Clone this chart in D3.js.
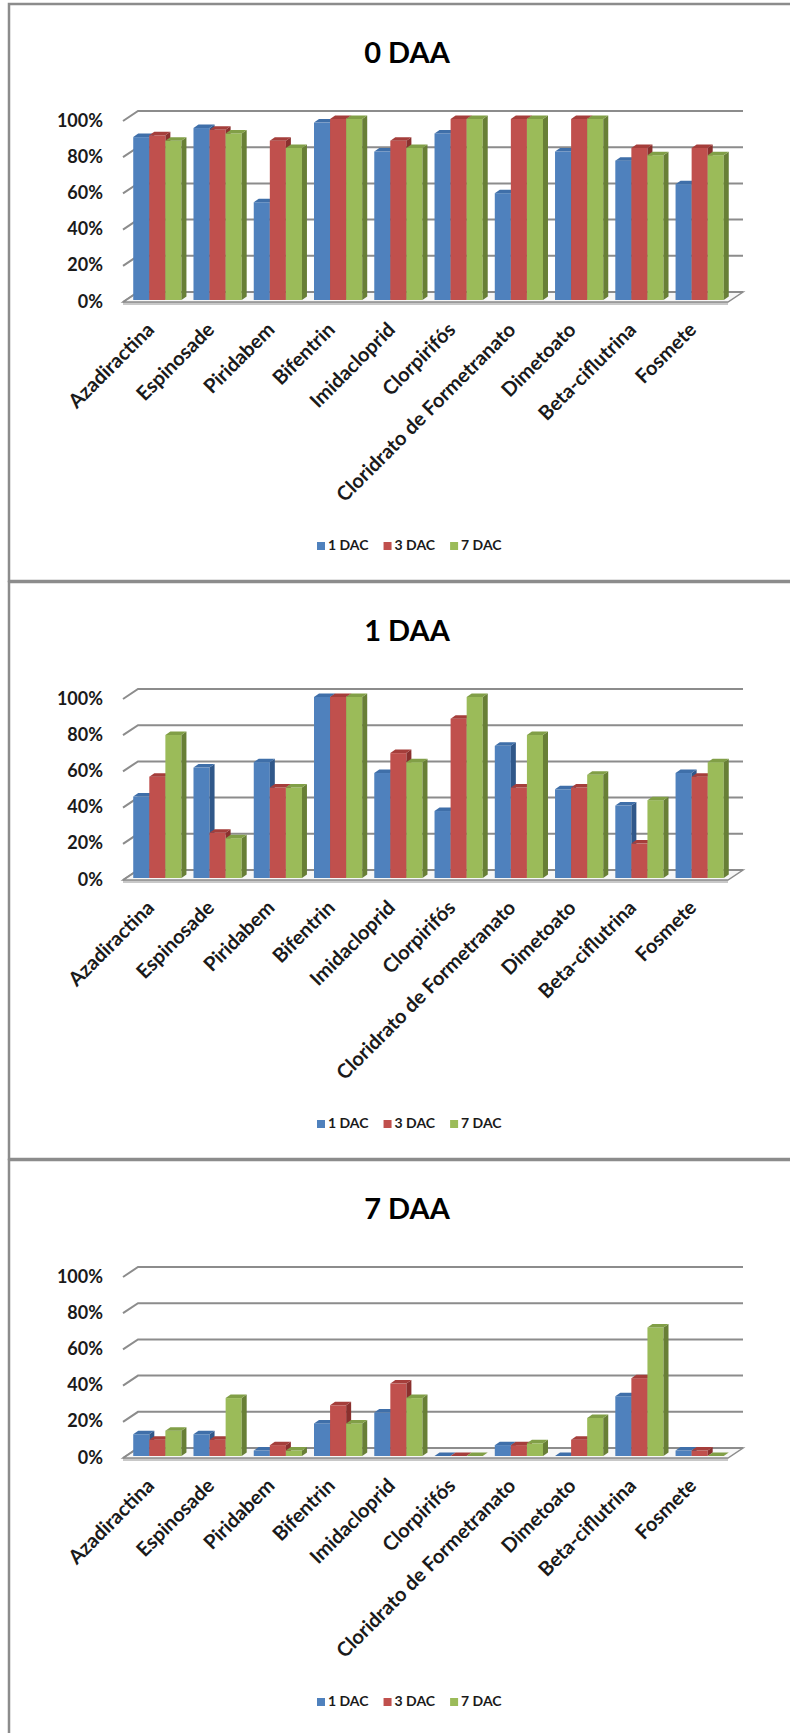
<!DOCTYPE html>
<html>
<head>
<meta charset="utf-8">
<script src="https://cdnjs.cloudflare.com/ajax/libs/d3/7.8.5/d3.min.js"></script>
<style>
  body { margin: 0; background: #fff; }
  svg { display: block; font-family: Lato, 'Open Sans', sans-serif; }
</style>
</head>
<body>
<div class="charts"></div>
<script>
var w = 790,
  h = 1733,
  panelH = 578;

var categories = ['Azadiractina', 'Espinosade', 'Piridabem', 'Bifentrin', 'Imidacloprid', 'Clorpirifós',
  'Cloridrato de Formetranato', 'Dimetoato', 'Beta-ciflutrina', 'Fosmete'];
var series = ['1 DAC', '3 DAC', '7 DAC'];
var titles = ['0 DAA', '1 DAA', '7 DAA'];
var tickValues = [0, 0.2, 0.4, 0.6, 0.8, 1];

// one row per category: [1 DAC, 3 DAC, 7 DAC]
var daa0 = [[0.90, 0.91, 0.88], [0.95, 0.94, 0.92], [0.54, 0.88, 0.84], [0.98, 1, 1], [0.82, 0.88, 0.84],
  [0.92, 1, 1], [0.59, 1, 1], [0.82, 1, 1], [0.77, 0.84, 0.80], [0.64, 0.84, 0.80]];
var daa1 = [[0.45, 0.56, 0.79], [0.61, 0.25, 0.22], [0.64, 0.50, 0.50], [1, 1, 1], [0.58, 0.69, 0.64],
  [0.37, 0.88, 1], [0.73, 0.50, 0.79], [0.49, 0.50, 0.57], [0.40, 0.19, 0.43], [0.58, 0.56, 0.64]];
var daa7 = [[0.12, 0.09, 0.14], [0.12, 0.09, 0.32], [0.03, 0.06, 0.03], [0.18, 0.28, 0.18], [0.24, 0.40, 0.32],
  [0, 0, 0], [0.06, 0.06, 0.07], [0, 0.09, 0.21], [0.33, 0.43, 0.71], [0.03, 0.03, 0]];
var panels = [daa0, daa1, daa7];

// front / top / side colours per series
var colors = {
  front: ['#4f81bd', '#c0504d', '#9bbb59'],
  top: ['#3f6fa9', '#a53e3b', '#819f47'],
  side: ['#30588a', '#8a302e', '#687f36']
};

// 3d geometry
var fx0 = 123, fx1 = 728,   // front edge of the floor
  dx = 15, dy = -10,         // full depth offset of the walls
  barShift = [3, -2],        // bars stand a little behind the front edge
  barDepth = [5, -3.5];

var x = d3.scaleBand()
  .domain(categories)
  .range([fx0, fx1])
  .paddingInner(0.2)
  .paddingOuter(0.12);

var xs = d3.scaleBand()
  .domain(series)
  .range([0, x.bandwidth()]);

var y = d3.scaleLinear()
  .domain([0, 1])
  .range([302, 121]);

var svg = d3.select('.charts')
  .append('svg')
  .attr('width', w)
  .attr('height', h);

var pts = function (arr) {
  return arr.map(function (p) { return p.join(','); }).join(' ');
};

var drawPanel = function (data, i) {
  var g = svg.append('g')
    .attr('transform', 'translate(0,' + (i * panelH) + ')');

  // frame
  g.append('rect')
    .attr('x', 9)
    .attr('y', 4)
    .attr('width', 800)
    .attr('height', 577)
    .attr('fill', 'none')
    .attr('stroke', '#8c8c8c')
    .attr('stroke-width', 2.5);

  g.append('text')
    .attr('x', 407)
    .attr('y', 63)
    .attr('text-anchor', 'middle')
    .attr('font-size', '29px')
    .attr('font-weight', 'bold')
    .text(titles[i]);

  // floor
  var y0 = y(0);
  g.append('polygon')
    .attr('points', pts([[fx0, y0 + 3], [fx1, y0 + 3], [fx1, y0], [fx1 + dx, y0 + dy], [fx0 + dx, y0 + dy], [fx0, y0]]))
    .attr('fill', '#c8c8c8');
  g.append('polygon')
    .attr('points', pts([[fx0, y0], [fx1, y0], [fx1 + dx, y0 + dy], [fx0 + dx, y0 + dy]]))
    .attr('fill', '#f7f7f7')
    .attr('stroke', '#8c8c8c')
    .attr('stroke-width', 1.5);

  // gridlines on the back wall and the left wall
  var grid = g.selectAll('.grid')
    .data(tickValues)
    .enter()
    .append('g')
    .attr('class', 'grid');
  grid.append('polyline')
    .attr('points', function (d) {
      return pts([[fx0, y(d)], [fx0 + dx, y(d) + dy], [fx1 + dx, y(d) + dy]]);
    })
    .attr('fill', 'none')
    .attr('stroke', '#8c8c8c')
    .attr('stroke-width', 2);
  grid.append('text')
    .attr('x', 103)
    .attr('y', function (d) { return y(d) + 1; })
    .attr('text-anchor', 'end')
    .attr('dominant-baseline', 'middle')
    .attr('font-size', '18px')
    .attr('font-weight', 'bold')
    .attr('fill', '#1a1a1a')
    .text(function (d) { return d3.format('.0%')(d); });

  // bars, left to right so each front face covers its neighbour's side
  var bars = [];
  categories.forEach(function (c, ci) {
    series.forEach(function (s, si) {
      bars.push({ cat: c, s: s, si: si, v: data[ci][si] });
    });
  });

  var bar = g.selectAll('.bar')
    .data(bars)
    .enter()
    .append('g')
    .attr('class', 'bar');

  var geo = function (d) {
    var bx = x(d.cat) + xs(d.s) + barShift[0],
      bw = xs.bandwidth(),
      top = y(d.v) + barShift[1],
      bot = y(0) + barShift[1];
    return { bx: bx, bw: bw, top: top, bot: bot };
  };

  bar.append('rect')
    .attr('x', function (d) { return geo(d).bx; })
    .attr('y', function (d) { return geo(d).top; })
    .attr('width', xs.bandwidth())
    .attr('height', function (d) { var b = geo(d); return b.bot - b.top; })
    .attr('fill', function (d) { return colors.front[d.si]; });

  bar.append('polygon')
    .attr('points', function (d) {
      var b = geo(d);
      return pts([[b.bx + b.bw, b.top], [b.bx + b.bw + barDepth[0], b.top + barDepth[1]],
        [b.bx + b.bw + barDepth[0], b.bot + barDepth[1]], [b.bx + b.bw, b.bot]]);
    })
    .attr('fill', function (d) { return colors.side[d.si]; });

  bar.append('polygon')
    .attr('points', function (d) {
      var b = geo(d);
      return pts([[b.bx, b.top], [b.bx + b.bw, b.top], [b.bx + b.bw + barDepth[0], b.top + barDepth[1]],
        [b.bx + barDepth[0], b.top + barDepth[1]]]);
    })
    .attr('fill', function (d) { return colors.top[d.si]; });

  // category labels
  g.selectAll('.xlabel')
    .data(categories)
    .enter()
    .append('text')
    .attr('class', 'xlabel')
    .attr('transform', function (d) {
      return 'translate(' + (x(d) + x.bandwidth() / 2 + 1) + ',331) rotate(-45)';
    })
    .attr('text-anchor', 'end')
    .attr('font-size', '20px')
    .attr('font-weight', 'bold')
    .attr('fill', '#1a1a1a')
    .text(function (d) { return d; });

  // legend
  var legend = g.append('g')
    .attr('transform', 'translate(0,546)');
  var lx = 317;
  series.forEach(function (s, si) {
    legend.append('rect')
      .attr('x', lx)
      .attr('y', -4)
      .attr('width', 8)
      .attr('height', 8)
      .attr('fill', colors.front[si]);
    var t = legend.append('text')
      .attr('x', lx + 11)
      .attr('y', 0)
      .attr('dominant-baseline', 'middle')
      .attr('font-size', '14px')
      .attr('font-weight', 'bold')
      .attr('fill', '#1a1a1a')
      .text(s);
    lx += 11 + t.node().getComputedTextLength() + 15;
  });
};

panels.forEach(drawPanel);
</script>
</body>
</html>
